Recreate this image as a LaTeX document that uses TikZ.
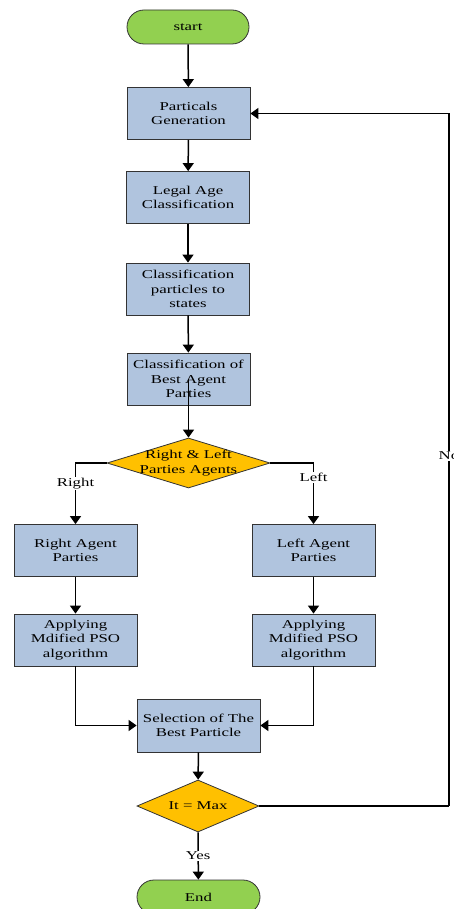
\documentclass[tikz,border=0pt]{standalone}
\usepackage{fontspec}
\setmainfont{Liberation Serif}[FakeStretch=1.4]
\usetikzlibrary{shapes.geometric,shapes.misc,arrows.meta}
\definecolor{boxblue}{HTML}{B0C4DE}
\definecolor{termgreen}{HTML}{92D050}
\definecolor{decgold}{HTML}{FFC000}
\begin{document}
\begin{tikzpicture}[x=1pt,y=-1pt,
  every node/.style={font=\fontsize{12}{14.5}\selectfont, align=center, text=black},
  procbox/.style={draw=black!80, line width=0.8pt, fill=boxblue, minimum width=123pt, minimum height=52pt, inner sep=0pt},
  termbox/.style={draw=black!80, line width=0.8pt, fill=termgreen, rounded rectangle, minimum width=122pt, minimum height=34pt, inner sep=0pt},
  decbox/.style={draw=black!80, line width=0.8pt, fill=decgold, diamond, minimum width=163pt, minimum height=50pt, inner sep=0pt},
  arr/.style={line width=1.5pt, -{Triangle[length=8pt,width=11pt]}},
  lbl/.style={fill=white, inner sep=1pt}]
\useasboundingbox (0,0) rectangle (454,909);
\node[termbox] (start) at (188,27) {start};
\node[procbox] (pg) at (188.5,113.5) {Particals\\Generation};
\node[procbox] (la) at (188,197.5) {Legal Age\\Classification};
\node[procbox] (cp) at (188,289) {Classification\\particles to\\states};
\node[procbox] (cb) at (188.5,379) {Classification of\\Best Agent\\Parties};
\node[decbox, label={[align=center]center:Right \& Left\\Parties Agents}] (d1) at (188.5,463) {};
\node[procbox] (ra) at (75.5,550.5) {Right Agent\\Parties};
\node[procbox] (lp) at (313.5,550.5) {Left Agent\\Parties};
\node[procbox] (ar) at (75.5,640) {Applying\\Mdified PSO\\algorithm};
\node[procbox] (al) at (313.5,640) {Applying\\Mdified PSO\\algorithm};
\node[procbox, minimum width=123pt, minimum height=53pt] (sel) at (198.5,725.5) {Selection of The\\Best Particle};
\node[decbox, minimum width=122pt, minimum height=52pt, label={center:It = Max}] (d2) at (198,806) {};
\node[termbox, minimum width=123pt] (end) at (198.5,897) {End};
\coordinate (c1) at (449,806);

\draw[arr] (start) -- (pg);
\draw[arr] (pg) -- (la);
\draw[arr] (la) -- (cp);
\draw[arr] (cp) -- (cb);
\draw[arr] (cb.center) -- (d1.north);
\draw[arr] (d1.west) -| node[lbl, pos=0.67] {Right} (ra);
\draw[arr] (d1.east) -| node[lbl, pos=0.62] {Left} (lp);
\draw[arr] (ra) -- (ar);
\draw[arr] (lp) -- (al);
\draw[arr] (ar.south) |- (sel.west);
\draw[arr] (al.south) |- (sel.east);
\draw[arr] (sel) -- (d2);
\draw[line width=1.5pt] (d2.east) -- (c1);
\draw[arr] (c1) |- node[lbl, pos=0.253] {No} (pg.east);
\draw[arr] (d2.south) -- node[lbl] {Yes} (end);
\end{tikzpicture}
\end{document}
